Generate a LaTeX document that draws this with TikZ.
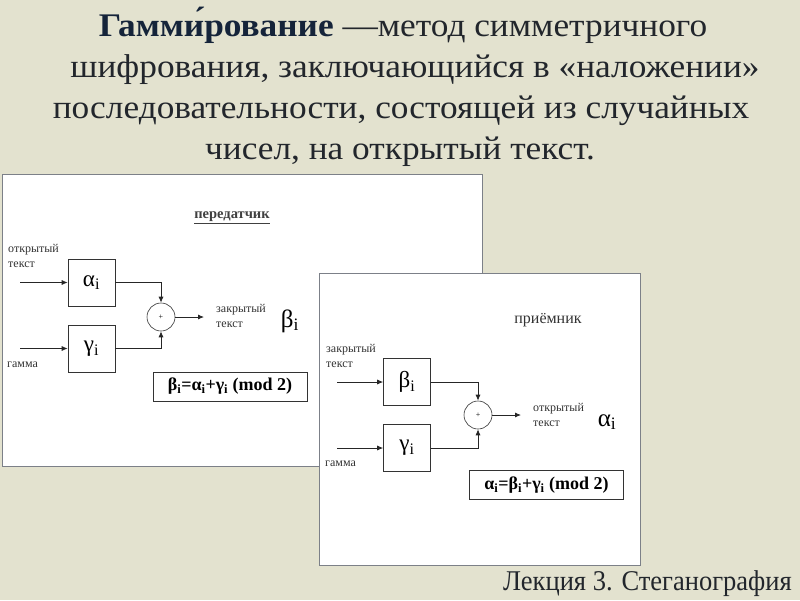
\documentclass[tikz,border=0pt]{standalone}
\usepackage{fontspec}
\setmainfont{Liberation Serif}
\usetikzlibrary{arrows.meta}
\definecolor{bg}{HTML}{E3E2CF}
\definecolor{ink}{HTML}{22262C}
\definecolor{navy}{HTML}{15243A}
\definecolor{frame}{HTML}{7C8088}
\newcommand{\gs}[2]{#1\textsubscript{#2}}
\newcommand{\wide}[1]{\scalebox{1.07}[1]{#1}}
\begin{document}
\begin{tikzpicture}[x=1pt,y=-1pt,
  title/.style={font=\fontsize{33}{33}\selectfont, text=ink, inner sep=0pt, anchor=base},
  panel/.style={draw=frame, line width=1pt, fill=white, inner sep=0pt},
  blk/.style={draw=black!80, line width=0.6pt, minimum width=47pt, minimum height=47pt, inner sep=0pt, font=\fontsize{23}{23}\selectfont},
  summer/.style={draw=black!80, circle, line width=0.6pt, minimum size=28pt, inner sep=0pt, font=\fontsize{8}{8}\selectfont},
  lbl/.style={font=\fontsize{12}{15}\selectfont, text=black!80, align=left, inner sep=0pt},
  big/.style={font=\fontsize{25}{25}\selectfont, inner sep=0pt},
  frm/.style={draw=black!80, line width=0.6pt, minimum width=154pt, minimum height=29pt, inner sep=0pt, font=\fontsize{18}{18}\selectfont\bfseries},
  arr/.style={-{Latex[length=6pt,width=5pt]}, line width=0.8pt, draw=black!85},
]
\useasboundingbox (0,0) rectangle (800,600);
\fill[bg] (0,0) rectangle (800,600);

% title
\node[title] (t1) at (403,36) {\wide{\textcolor{navy}{\textbf{Гамми́рование}} —метод симметричного}};
\node[title] (t2) at (415,77) {\wide{шифрования, заключающийся в «наложении»}};
\node[title] (t3) at (401,118) {\wide{последовательности, состоящей из случайных}};
\node[title] (t4) at (400,159) {\wide{чисел, на открытый текст.}};

% left panel (transmitter)
\node[panel, minimum width=480pt, minimum height=292pt] (p1) at (242,320) {};
\node[font=\fontsize{14.5}{14.5}\selectfont\bfseries, text=black!75, inner sep=0pt] (h1) at (232,218) {\underline{передатчик}};
\node[lbl, anchor=north west] (l1) at (8,244) {открытый\\текст};
\node[blk] (a1) at (91.5,282.5) {\gs{α}{i}};
\node[blk] (g1) at (91.5,348.5) {\gs{γ}{i}};
\node[lbl, anchor=west] (l2) at (7,365) {гамма};
\node[summer] (s1) at (161,317) {+};
\coordinate (ia) at (20,282.5);
\coordinate (ig) at (20,348.5);
\coordinate (oa) at (204,317);
\draw[arr] (ia) -- (a1.west);
\draw[arr] (ig) -- (g1.west);
\draw[arr] (a1.east) -| (s1.north);
\draw[arr] (g1.east) -| (s1.south);
\draw[arr] (s1.east) -- (oa);
\node[lbl, anchor=west] (l3) at (216,315.5) {закрытый\\текст};
\node[big] (b1) at (290,321) {\gs{β}{i}};
\node[frm] (f1) at (230,386.5) {\gs{β}{i}=\gs{α}{i}+\gs{γ}{i} (mod 2)};

% right panel (receiver)
\node[panel, minimum width=321pt, minimum height=292pt] (p2) at (480,419) {};
\node[font=\fontsize{16}{16}\selectfont, text=black!80, inner sep=0pt] (h2) at (548,320) {приёмник};
\node[lbl, anchor=north west] (l4) at (326,344) {закрытый\\текст};
\node[blk] (b2) at (407,382) {\gs{β}{i}};
\node[blk] (g2) at (407,448) {\gs{γ}{i}};
\node[lbl, anchor=west] (l5) at (325,464) {гамма};
\node[summer] (s2) at (478,415) {+};
\coordinate (ib) at (337,382);
\coordinate (ig2) at (337,448);
\coordinate (oa2) at (521,415);
\draw[arr] (ib) -- (b2.west);
\draw[arr] (ig2) -- (g2.west);
\draw[arr] (b2.east) -| (s2.north);
\draw[arr] (g2.east) -| (s2.south);
\draw[arr] (s2.east) -- (oa2);
\node[lbl, anchor=west] (l6) at (533,414.5) {открытый\\текст};
\node[big] (a2) at (607,422) {\gs{α}{i}};
\node[frm] (f2) at (546.5,485) {\gs{α}{i}=\gs{β}{i}+\gs{γ}{i} (mod 2)};

% footer
\node[font=\fontsize{26}{26}\selectfont, text=ink, inner sep=0pt, anchor=base east] (ft) at (792,590) {\scalebox{1.02}[1.1]{Лекция 3. Стеганография}};
\end{tikzpicture}
\end{document}
